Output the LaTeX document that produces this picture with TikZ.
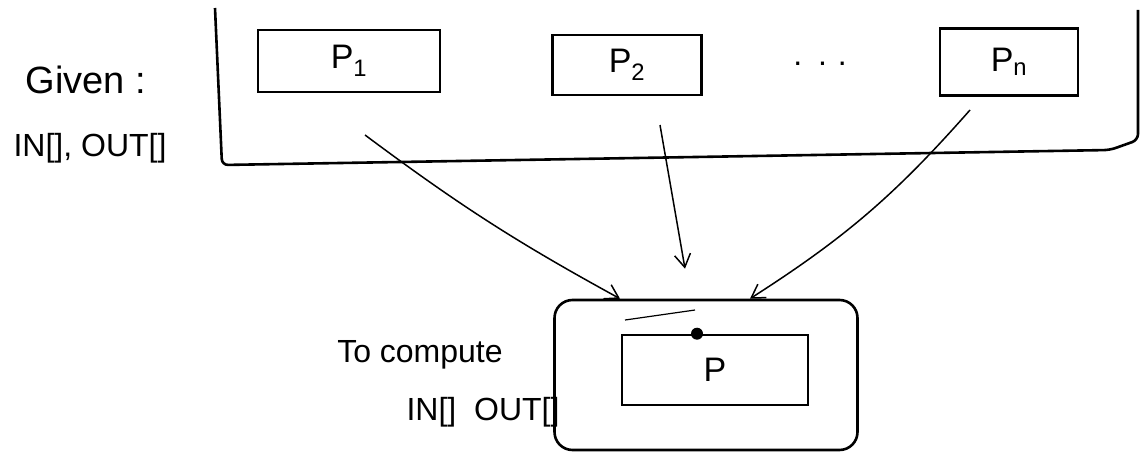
\documentclass[tikz,border=0pt]{standalone}
\usepackage{fontspec}
\setsansfont{Liberation Sans}
\usetikzlibrary{positioning,arrows.meta}
\begin{document}
\begin{tikzpicture}[x=1pt,y=-1pt,
    proc/.style={draw, line width=2.6pt, inner sep=0pt, font=\sffamily\fontsize{34}{36}\selectfont},
    link/.style={line width=1.5pt, -{Straight Barb[length=13pt,width=16pt]}},
    hand/.style={font=\sffamily\fontsize{32}{34}\selectfont, inner sep=0pt}]
    \useasboundingbox (0,0) rectangle (1143,457);
    % the given region, open at the top
    \draw [line width=2.6pt, rounded corners=6pt] (215,8) -- (222,165) -- (1110,150)
        -- (1138,140) -- (1138,10);
    \node [proc, minimum width=182pt, minimum height=62pt] (p1) at (349,61) {P\textsubscript{1}};
    \node [proc, minimum width=149pt, minimum height=60pt] (p2) at (627,65) {P\textsubscript{2}};
    \node [proc, minimum width=138pt, minimum height=67pt] (pn) at (1009,62) {P\textsubscript{n}};
    \node [hand] (dots) at (820,64) {.\,\,\,.\,\,.};
    \node [hand, font=\sffamily\fontsize{38}{40}\selectfont] (given) at (86,80) {Given :};
    \node [hand] (givenio) at (90,148) {IN[], OUT[]};
    % the block to compute
    \node [proc, rounded corners=18pt, minimum width=303pt, minimum height=150pt] (outer) at (706,375) {};
    \node [proc, minimum width=186pt, minimum height=70pt] (p) at (715,370) {P};
    \fill (p.north) ++(-18pt,0) circle (6pt);
    \draw [line width=1.2pt] (625,320) -- (695,310);
    \node [hand] (tocomp) at (420,355) {To compute};
    \node [hand] (tocompio) at (483,412) {IN[]\ \ OUT[]};
    % flow of the data
    \coordinate (s1) at (365,135);
    \coordinate (s2) at (660,125);
    \coordinate (s3) at (970,110);
    \coordinate (e1) at ([xshift=-86pt]outer.north);
    \coordinate (e2) at ([xshift=-21pt,yshift=30pt]outer.north);
    \coordinate (e3) at ([xshift=44pt]outer.north);
    \draw [link] (s1) to[bend right=4] (e1);
    \draw [link] (s2) -- (e2);
    \draw [link] (s3) to[bend left=8] (e3);
\end{tikzpicture}
\end{document}
